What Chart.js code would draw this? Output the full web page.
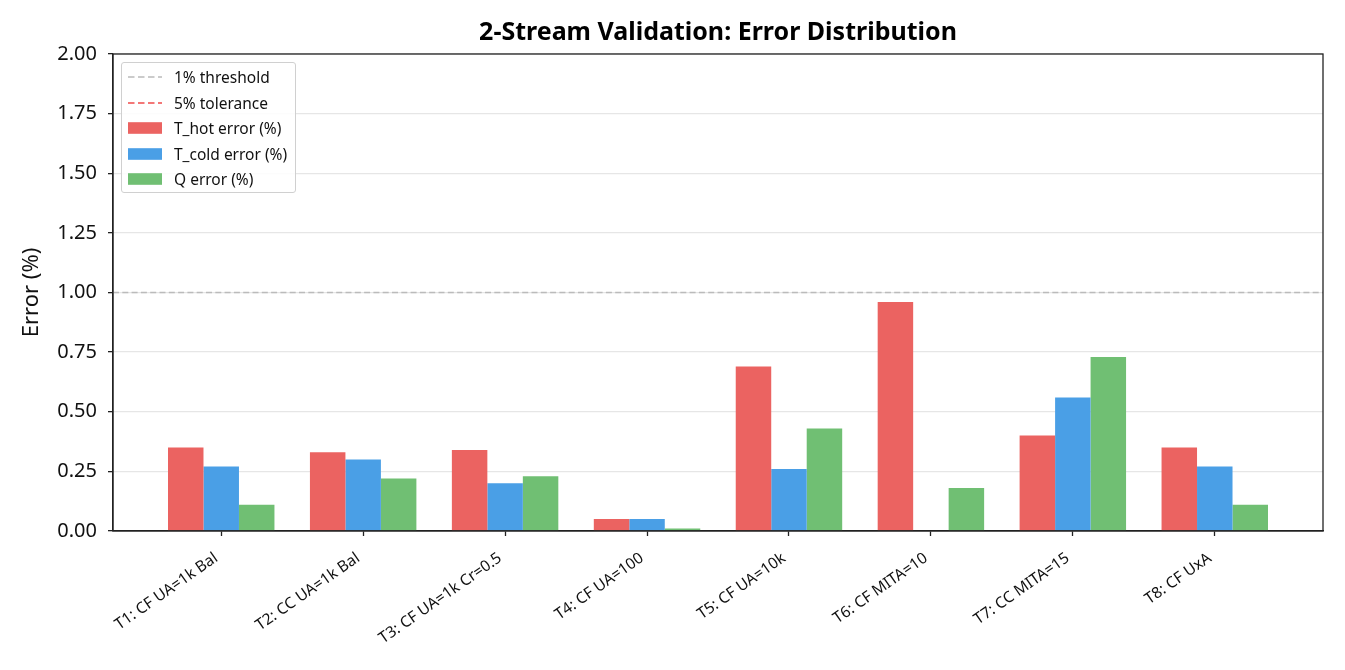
<!DOCTYPE html>
<html>
<head>
<meta charset="utf-8">
<script src="https://cdn.jsdelivr.net/npm/chart.js@4/dist/chart.umd.min.js"></script>
<style>
  body { margin: 0; background: #fff; font-family: "Noto Sans", sans-serif; }
  #wrap { position: relative; width: 1345px; height: 670px; }
  #legend {
    position: absolute; left: 121px; top: 62px; width: 173px; height: 129px;
    box-sizing: content-box; padding: 0; border: 1px solid #d0d0d0; border-radius: 3px;
    background: rgba(255,255,255,0.85); font-size: 15.5px; color: #111;
  }
  #legend .row { position: absolute; left: 0; height: 20px; display: flex; align-items: center; }
  #legend svg { position: absolute; left: 6px; top: 4px; }
  #legend span { position: absolute; left: 52px; white-space: nowrap; line-height: 20px; top: 0; }
</style>
</head>
<body>
<div id="wrap">
  <canvas id="chart"></canvas>
  <div id="legend"></div>
</div>
<script>
document.addEventListener('DOMContentLoaded', () => {
    const categories = ['T1: CF UA=1k Bal', 'T2: CC UA=1k Bal', 'T3: CF UA=1k Cr=0.5', 'T4: CF UA=100',
        'T5: CF UA=10k', 'T6: CF MITA=10', 'T7: CC MITA=15', 'T8: CF UxA'];
    const tHotError = [0.35, 0.33, 0.34, 0.05, 0.69, 0.96, 0.40, 0.35];
    const tColdError = [0.27, 0.30, 0.20, 0.05, 0.26, 0.00, 0.56, 0.27];
    const qError = [0.11, 0.22, 0.23, 0.01, 0.43, 0.18, 0.73, 0.11];
    const thresholdPct = 1;
    const tolerancePct = 5;
    const yTicks = [0, 0.25, 0.5, 0.75, 1.0, 1.25, 1.5, 1.75, 2.0];

    // bars span -0.375..7.375, plus 5% margin each side
    const xMin = -0.7625, xMax = 7.7625;
    const toPoints = arr => arr.map((v, i) => ({ x: i, y: v }));
    const hline = v => [{ x: xMin, y: v }, { x: xMax, y: v }];

    const frame = {
        id: 'frame',
        afterDatasetsDraw(chart) {
            const a = chart.chartArea, c = chart.ctx;
            c.save();
            c.strokeStyle = '#222';
            c.lineWidth = 1.3;
            c.strokeRect(a.left, a.top, a.right - a.left, a.bottom - a.top);
            c.restore();
        }
    };

    const ctx = document.getElementById('chart').getContext('2d');
    const chart = new Chart(ctx, {
        type: 'bar',
        data: {
            datasets: [
                { type: 'line', label: '1% threshold', data: hline(thresholdPct), borderColor: '#bbbbbb',
                  borderDash: [6, 3.3], borderWidth: 1.4, pointRadius: 0, order: 0 },
                { type: 'line', label: '5% tolerance', data: hline(tolerancePct), borderColor: '#ef4b4b',
                  borderDash: [6, 3.3], borderWidth: 1.4, pointRadius: 0, order: 0 },
                { label: 'T_hot error (%)', data: toPoints(tHotError), backgroundColor: '#eb6361', order: 1 },
                { label: 'T_cold error (%)', data: toPoints(tColdError), backgroundColor: '#4a9fe6', order: 1 },
                { label: 'Q error (%)', data: toPoints(qError), backgroundColor: '#70bf73', order: 1 }
            ]
        },
        options: {
            responsive: true,
            maintainAspectRatio: false,
            animation: false,
            barPercentage: 1.0,
            categoryPercentage: 0.75,
            layout: { padding: { left: 0, right: 22, top: 0, bottom: 0 } },
            plugins: {
                legend: { display: false },
                tooltip: { enabled: false },
                title: {
                    display: true,
                    fullSize: false,
                    text: '2-Stream Validation: Error Distribution',
                    color: '#000',
                    font: { family: 'Noto Sans', size: 25, weight: 'bold', lineHeight: 1.2 },
                    padding: { top: 18, bottom: 6 }
                }
            },
            scales: {
                x: {
                    type: 'linear',
                    min: xMin,
                    max: xMax,
                    offset: false,
                    afterBuildTicks: scale => { scale.ticks = categories.map((_, i) => ({ value: i })); },
                    afterFit: scale => { scale.height = 139; },
                    grid: { offset: false, drawOnChartArea: false, drawTicks: true, tickLength: 5, tickColor: '#222', tickWidth: 1.3 },
                    border: { color: '#222', width: 1.3 },
                    ticks: {
                        autoSkip: false,
                        minRotation: 35,
                        maxRotation: 35,
                        padding: 13,
                        labelOffset: -5,
                        color: '#111',
                        font: { family: 'Noto Sans', size: 15.5 },
                        callback: v => categories[v]
                    }
                },
                y: {
                    min: 0,
                    max: 2,
                    afterBuildTicks: scale => { scale.ticks = yTicks.map(v => ({ value: v })); },
                    afterFit: scale => { scale.width = 113; },
                    grid: { color: '#e6e6e6', lineWidth: 1.3, tickLength: 5, tickColor: '#222', tickWidth: 1.3 },
                    border: { color: '#222', width: 1.3 },
                    ticks: {
                        padding: 11,
                        color: '#111',
                        font: { family: 'Noto Sans', size: 20 },
                        callback: v => v.toFixed(2)
                    },
                    title: {
                        display: true,
                        text: 'Error (%)',
                        color: '#111',
                        font: { family: 'Noto Sans', size: 22 },
                        padding: { top: 19, bottom: 0 }
                    }
                }
            }
        },
        plugins: [frame]
    });

    const legend = document.getElementById('legend');
    const NS = 'http://www.w3.org/2000/svg';
    chart.data.datasets.forEach((ds, k) => {
        const row = document.createElement('div');
        row.className = 'row';
        row.style.top = (4 + k * 25.6) + 'px';
        const svg = document.createElementNS(NS, 'svg');
        svg.setAttribute('width', '34');
        svg.setAttribute('height', '12');
        if (ds.type === 'line') {
            const ln = document.createElementNS(NS, 'line');
            ln.setAttribute('x1', '0'); ln.setAttribute('x2', '34');
            ln.setAttribute('y1', '6'); ln.setAttribute('y2', '6');
            ln.setAttribute('stroke', ds.borderColor);
            ln.setAttribute('stroke-width', '1.6');
            ln.setAttribute('stroke-dasharray', '6.5 3.5');
            svg.appendChild(ln);
        } else {
            const r = document.createElementNS(NS, 'rect');
            r.setAttribute('x', '0'); r.setAttribute('y', '0.2');
            r.setAttribute('width', '34'); r.setAttribute('height', '11.6');
            r.setAttribute('fill', ds.backgroundColor);
            svg.appendChild(r);
        }
        const txt = document.createElement('span');
        txt.textContent = ds.label;
        row.appendChild(svg);
        row.appendChild(txt);
        legend.appendChild(row);
    });
});
</script>
</body>
</html>
